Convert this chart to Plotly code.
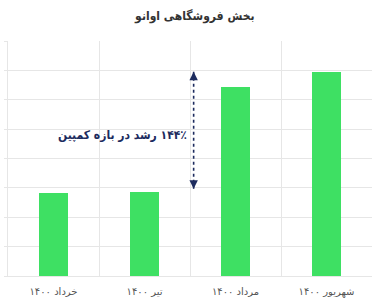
import plotly.graph_objects as go

categories = ["خرداد ۱۴۰۰", "تیر ۱۴۰۰", "مرداد ۱۴۰۰", "شهریور ۱۴۰۰"]
values = [2.82, 2.85, 6.43, 6.95]
title_text = "بخش فروشگاهی اوانو"
note_text = "۱۴۴٪ رشد در بازه کمپین"

positions = [i + 0.5 for i in range(len(categories))]

GREEN = "#3ee063"
NAVY = "#1c2b5e"
GRID = "#e6e6e6"
FONT = "DejaVu Sans, Noto Sans, sans-serif"
FONT_C = "DejaVu Sans Condensed, DejaVu Sans, sans-serif"
RLM = "\u200F"

fig = go.Figure()
fig.add_trace(go.Bar(
    x=positions, y=values, width=0.32,
    marker=dict(color=GREEN, line=dict(width=0)),
    hoverinfo="skip",
))

# arrow between campaign start (tir) and end (shahrivar)
ax = 2.04
y_low = values[1] + 0.12
y_high = values[3]
fig.add_shape(type="line", xref="x", yref="y", x0=ax, x1=ax, y0=y_low, y1=y_high,
              line=dict(color=NAVY, width=1.6, dash="dot"))
fig.add_annotation(x=ax, y=y_high, ax=ax, ay=y_high - 0.3, xref="x", yref="y",
                   axref="x", ayref="y", showarrow=True, arrowhead=2, arrowsize=1.2,
                   arrowwidth=1.4, arrowcolor=NAVY, text="")
fig.add_annotation(x=ax, y=y_low, ax=ax, ay=y_low + 0.3, xref="x", yref="y",
                   axref="x", ayref="y", showarrow=True, arrowhead=2, arrowsize=1.2,
                   arrowwidth=1.4, arrowcolor=NAVY, text="")
fig.add_annotation(x=2.0 - 0.01, y=(y_low + y_high) / 2 - 0.15, xref="x", yref="y",
                   text="<b>" + RLM + note_text + "</b>", showarrow=False,
                   xanchor="right", yanchor="middle",
                   font=dict(family=FONT_C, size=12, color=NAVY))

fig.update_layout(
    width=382, height=303,
    margin=dict(l=5, r=10, t=41, b=27),
    paper_bgcolor="white", plot_bgcolor="white",
    showlegend=False,
    bargap=0,
    title=dict(text="<b>" + title_text + "</b>", xref="container", x=0.51,
               y=1 - 16 / 303, yref="container", xanchor="center", yanchor="middle",
               font=dict(family=FONT_C, size=12, color="#333333")),
    font=dict(family=FONT),
)
fig.update_xaxes(
    range=[0, 4], tickvals=positions, ticktext=categories,
    showgrid=False, zeroline=False,
    tickfont=dict(family=FONT, size=10, color="#555555"),
    ticks="", ticklabelstandoff=6, showline=True, linecolor=GRID, linewidth=1,
    minor=dict(tick0=0, dtick=1, showgrid=True, gridcolor=GRID, gridwidth=1),
    fixedrange=True,
)
fig.update_yaxes(
    range=[0, 8], dtick=1, showticklabels=False,
    showgrid=True, gridcolor=GRID, gridwidth=1, zeroline=False,
    ticks="outside", ticklen=3, tickcolor=GRID,
    showline=True, linecolor=GRID, mirror=False,
    fixedrange=True,
)

fig.write_html("out.html", config={"displayModeBar": False})
